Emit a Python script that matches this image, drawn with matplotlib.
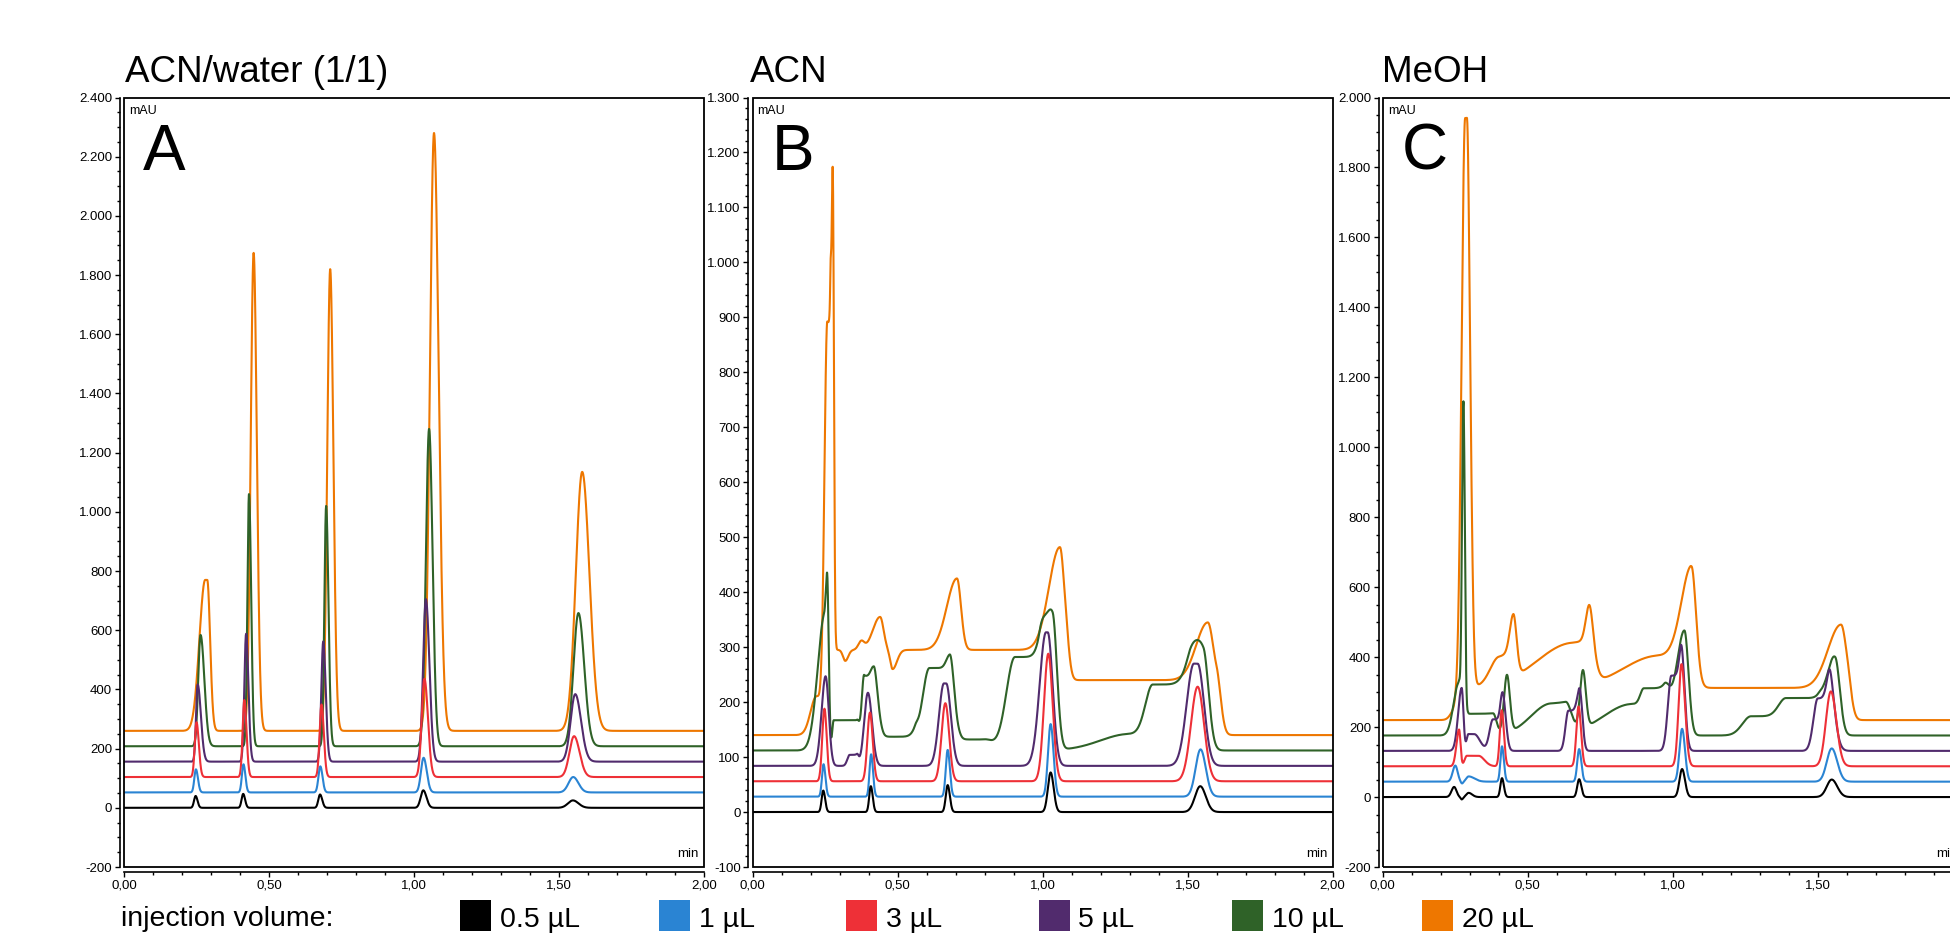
import numpy as np
import matplotlib
matplotlib.use("Agg")
import matplotlib.pyplot as plt
from matplotlib.patches import Rectangle
from matplotlib.ticker import MultipleLocator, FuncFormatter

plt.rcParams['font.family'] = ['Liberation Sans', 'DejaVu Sans']

# ---------------- data ----------------
SERIES = ["0.5 µL", "1 µL", "3 µL", "5 µL", "10 µL", "20 µL"]
COLORS = ["#000000", "#2A84D3", "#EE3037", "#512B6D", "#2F6228", "#EE7700"]
PANEL_TITLES = ["ACN/water (1/1)", "ACN", "MeOH"]
PANEL_LETTERS = ["A", "B", "C"]

# vertical offsets of each trace (mAU)
OFFSET_A = [0, 52, 104, 156, 208, 260]
OFFSET_B = [0, 28, 56, 84, 112, 140]
OFFSET_C = [0, 44, 88, 132, 176, 220]

# peak tables: (start min, end min, height mAU, sigma left, sigma right)
A_BLACK = [(0.247, 0.247, 40, 0.0055, 0.0065), (0.411, 0.411, 47, 0.0055, 0.0065),
           (0.676, 0.676, 45, 0.0060, 0.0075), (1.032, 1.032, 59, 0.0090, 0.0110),
           (1.548, 1.548, 25, 0.0170, 0.0190)]
A_BLUE = [(0.248, 0.248, 78, 0.0055, 0.0070), (0.412, 0.412, 95, 0.0055, 0.0065),
          (0.677, 0.677, 88, 0.0065, 0.0075), (1.033, 1.033, 117, 0.0090, 0.0110),
          (1.549, 1.549, 52, 0.0160, 0.0180)]
A_RED = [(0.250, 0.250, 185, 0.0060, 0.0080), (0.415, 0.415, 260, 0.0060, 0.0075),
         (0.681, 0.681, 245, 0.0065, 0.0080), (1.036, 1.036, 332, 0.0095, 0.0120),
         (1.552, 1.552, 138, 0.0160, 0.0190)]
A_PURPLE = [(0.254, 0.254, 261, 0.0055, 0.0110), (0.421, 0.421, 432, 0.0060, 0.0080),
            (0.687, 0.687, 406, 0.0065, 0.0085), (1.041, 1.041, 549, 0.0095, 0.0120),
            (1.556, 1.556, 228, 0.0160, 0.0200)]
A_GREEN = [(0.264, 0.264, 376, 0.0080, 0.0130), (0.431, 0.431, 852, 0.0055, 0.0075),
           (0.697, 0.697, 812, 0.0060, 0.0080), (1.052, 1.052, 1072, 0.0110, 0.0120),
           (1.567, 1.567, 450, 0.0170, 0.0200)]
A_ORANGE = [(0.280, 0.287, 510, 0.0200, 0.0100), (0.447, 0.447, 1615, 0.0100, 0.0110),
            (0.711, 0.711, 1560, 0.0100, 0.0110), (1.069, 1.069, 2020, 0.0140, 0.0160),
            (1.580, 1.580, 875, 0.0220, 0.0250)]

B_BLACK = [(0.244, 0.244, 39, 0.0055, 0.0065), (0.408, 0.408, 47, 0.0055, 0.0065),
           (0.673, 0.673, 49, 0.0065, 0.0075), (1.028, 1.028, 72, 0.0095, 0.0105),
           (1.544, 1.544, 47, 0.0180, 0.0190)]
B_BLUE = [(0.245, 0.245, 59, 0.0055, 0.0065), (0.409, 0.409, 77, 0.0055, 0.0065),
          (0.673, 0.673, 85, 0.0065, 0.0075), (1.028, 1.028, 132, 0.0090, 0.0100),
          (1.545, 1.545, 86, 0.0170, 0.0180)]
B_RED = [(0.248, 0.248, 132, 0.0075, 0.0080), (0.405, 0.405, 125, 0.0090, 0.0095),
         (0.665, 0.665, 142, 0.0130, 0.0130), (1.020, 1.020, 232, 0.0150, 0.0150),
         (1.535, 1.535, 172, 0.0230, 0.0220)]
B_PURPLE = [(0.252, 0.252, 163, 0.0140, 0.0110), (0.335, 0.360, 20, 0.0080, 0.0060),
            (0.398, 0.398, 133, 0.0130, 0.0140), (0.660, 0.668, 150, 0.0170, 0.0160),
            (1.012, 1.018, 243, 0.0220, 0.0170), (1.522, 1.535, 186, 0.0250, 0.0220)]
B_GREEN = [(0.250, 0.250, 250, 0.0250, 0.0070), (0.259, 0.259, 195, 0.0040, 0.0050),
           (0.280, 0.360, 55, 0.0050, 0.0100), (0.385, 0.418, 135, 0.0080, 0.0140),
           (0.415, 0.415, 12, 0.0080, 0.0080), (0.450, 0.560, 25, 0.0200, 0.0100),
           (0.610, 0.680, 150, 0.0250, 0.0160), (0.680, 0.680, 22, 0.0120, 0.0120),
           (0.720, 0.800, 20, 0.0200, 0.0300), (0.905, 0.990, 170, 0.0300, 0.0200),
           (1.035, 1.035, 237, 0.0250, 0.0150), (1.300, 1.500, 30, 0.1000, 0.0300),
           (1.380, 1.500, 90, 0.0250, 0.0300), (1.555, 1.555, 165, 0.0350, 0.0180)]
B_ORANGE = [(0.220, 0.220, 70, 0.0200, 0.0200), (0.258, 0.268, 740, 0.0100, 0.0040),
            (0.277, 0.277, 900, 0.0040, 0.0040), (0.290, 1.600, 100, 0.0100, 0.0150),
            (0.290, 1.080, 55, 0.0100, 0.0120), (0.320, 0.320, -20, 0.0080, 0.0100),
            (0.375, 0.375, 15, 0.0100, 0.0100), (0.440, 0.440, 60, 0.0250, 0.0120),
            (0.483, 0.483, -35, 0.0080, 0.0150), (0.705, 0.705, 130, 0.0350, 0.0140),
            (1.060, 1.060, 187, 0.0380, 0.0150), (1.570, 1.570, 105, 0.0400, 0.0180)]

C_BLACK = [(0.246, 0.246, 29, 0.0090, 0.0080), (0.272, 0.272, -7, 0.0040, 0.0050),
           (0.296, 0.296, 12, 0.0080, 0.0120), (0.411, 0.411, 54, 0.0055, 0.0065),
           (0.677, 0.677, 51, 0.0065, 0.0075), (1.032, 1.032, 80, 0.0090, 0.0100),
           (1.548, 1.548, 50, 0.0170, 0.0190)]
C_BLUE = [(0.250, 0.250, 46, 0.0090, 0.0080), (0.273, 0.273, -6, 0.0040, 0.0040),
          (0.296, 0.296, 15, 0.0080, 0.0200), (0.411, 0.411, 101, 0.0055, 0.0065),
          (0.677, 0.677, 93, 0.0065, 0.0075), (1.032, 1.032, 151, 0.0090, 0.0100),
          (1.548, 1.548, 95, 0.0170, 0.0190)]
C_RED = [(0.263, 0.263, 105, 0.0090, 0.0050), (0.290, 0.330, 30, 0.0080, 0.0200),
         (0.410, 0.410, 160, 0.0065, 0.0075), (0.675, 0.675, 171, 0.0075, 0.0085),
         (1.030, 1.030, 292, 0.0100, 0.0120), (1.545, 1.545, 214, 0.0170, 0.0190)]
C_PURPLE = [(0.272, 0.272, 180, 0.0120, 0.0060), (0.295, 0.315, 48, 0.0060, 0.0200),
            (0.380, 0.405, 90, 0.0120, 0.0100), (0.416, 0.416, 110, 0.0080, 0.0100),
            (0.640, 0.675, 115, 0.0100, 0.0100), (0.682, 0.682, 75, 0.0100, 0.0080),
            (0.995, 1.025, 215, 0.0120, 0.0120), (1.033, 1.033, 110, 0.0090, 0.0110),
            (1.500, 1.535, 150, 0.0150, 0.0150), (1.545, 1.545, 100, 0.0120, 0.0180)]
C_GREEN = [(0.262, 0.262, 150, 0.0180, 0.0060), (0.278, 0.278, 950, 0.0050, 0.0050),
           (0.295, 0.380, 62, 0.0060, 0.0120), (0.428, 0.428, 165, 0.0100, 0.0100),
           (0.580, 0.630, 90, 0.0700, 0.0200), (0.690, 0.690, 165, 0.0100, 0.0100),
           (0.860, 0.970, 90, 0.1000, 0.0200), (0.900, 0.970, 45, 0.0120, 0.0200),
           (1.040, 1.040, 300, 0.0280, 0.0140), (1.270, 1.500, 55, 0.0300, 0.0300),
           (1.390, 1.500, 52, 0.0250, 0.0300), (1.560, 1.560, 210, 0.0250, 0.0160)]
C_ORANGE = [(0.250, 0.250, 30, 0.0150, 0.0080), (0.284, 0.290, 1720, 0.0125, 0.0110),
            (0.310, 1.600, 92, 0.0060, 0.0150), (0.400, 0.450, 75, 0.0300, 0.0100),
            (0.450, 0.450, 105, 0.0120, 0.0120), (0.650, 0.710, 125, 0.1200, 0.0200),
            (0.712, 0.712, 100, 0.0120, 0.0120), (0.950, 1.060, 92, 0.1200, 0.0200),
            (1.065, 1.065, 258, 0.0350, 0.0150), (1.580, 1.580, 181, 0.0450, 0.0180)]

PANEL_TRACES = [
    [A_BLACK, A_BLUE, A_RED, A_PURPLE, A_GREEN, A_ORANGE],
    [B_BLACK, B_BLUE, B_RED, B_PURPLE, B_GREEN, B_ORANGE],
    [C_BLACK, C_BLUE, C_RED, C_PURPLE, C_GREEN, C_ORANGE],
]
PANEL_OFFSETS = [OFFSET_A, OFFSET_B, OFFSET_C]
Y_LIMITS = [(-200, 2400), (-100, 1300), (-200, 2000)]
Y_MAJOR = [200, 100, 200]
Y_MINOR = [50, 20, 50]
X_TICKS = [[0, 0.5, 1.0, 1.5, 2.0], [0, 0.5, 1.0, 1.5, 2.0], [0, 0.5, 1.0, 1.5]]

# ---------------- layout (pixels) ----------------
W, H = 1950, 944
FRAME_LEFT = [124, 752.5, 1382.8]
FRAME_W = 580
FRAME_TOP, FRAME_BOTTOM = 97.5, 867
TITLE_X = [125, 750, 1382]
LEGEND_X = [460, 659, 846, 1038.5, 1232, 1422]


def trace(t, comps, base):
    y = np.full_like(t, float(base))
    for t0, t1, h, sl, sr in comps:
        prof = np.ones_like(t)
        left = t < t0
        prof[left] = np.exp(-0.5 * ((t[left] - t0) / sl) ** 2)
        right = t > t1
        prof[right] = np.exp(-0.5 * ((t[right] - t1) / sr) ** 2)
        y += h * prof
    return y


def yfmt(v, pos):
    return f"{int(round(v)):,}".replace(",", ".")


def xfmt(v, pos):
    return f"{v:.2f}".replace(".", ",")


fig = plt.figure(figsize=(W / 100, H / 100), dpi=100)
t = np.linspace(0, 2, 4001)

for i in range(3):
    ax = fig.add_axes([FRAME_LEFT[i] / W, 1 - FRAME_BOTTOM / H,
                       FRAME_W / W, (FRAME_BOTTOM - FRAME_TOP) / H])
    ax.set_xlim(0, 2)
    ax.set_ylim(*Y_LIMITS[i])
    for k in reversed(range(6)):
        y = trace(t, PANEL_TRACES[i][k], PANEL_OFFSETS[i][k])
        ax.plot(t, y, color=COLORS[k], lw=1.5, solid_joinstyle='round')
    ax.spines['top'].set_visible(False)
    ax.spines['right'].set_visible(False)
    ax.spines['left'].set_position(('outward', 3))
    ax.spines['bottom'].set_position(('outward', 3.6))
    ax.spines['left'].set_linewidth(1.2)
    ax.spines['bottom'].set_linewidth(1.2)
    ax.add_patch(Rectangle((0, 0), 1, 1, transform=ax.transAxes, fill=False,
                           lw=1.3, ec='black', clip_on=False, zorder=5))
    ax.set_xticks(X_TICKS[i])
    ax.xaxis.set_minor_locator(MultipleLocator(0.1))
    ax.yaxis.set_major_locator(MultipleLocator(Y_MAJOR[i]))
    ax.yaxis.set_minor_locator(MultipleLocator(Y_MINOR[i]))
    ax.xaxis.set_major_formatter(FuncFormatter(xfmt))
    ax.yaxis.set_major_formatter(FuncFormatter(yfmt))
    ax.tick_params(which='major', length=3.5, width=1, labelsize=9.5, pad=2)
    ax.tick_params(which='minor', length=2.2, width=1)
    ax.annotate("mAU", xy=(0, 1), xycoords='axes fraction', xytext=(5, -14),
                textcoords='offset pixels', ha='left', va='center', fontsize=9)
    ax.annotate("min", xy=(1, 0), xycoords='axes fraction', xytext=(-5, 13),
                textcoords='offset pixels', ha='right', va='center', fontsize=9.5)
    fig.text((FRAME_LEFT[i] + 19) / W, 1 - (FRAME_TOP + 72) / H, PANEL_LETTERS[i],
             fontsize=46, ha='left', va='baseline')
    fig.text(TITLE_X[i] / W, 1 - 81.7 / H, PANEL_TITLES[i], fontsize=26.5,
             ha='left', va='baseline')

# legend
fig.text(121 / W, 1 - 926 / H, "injection volume:", fontsize=20.5, ha='left', va='baseline')
for k in range(6):
    fig.add_artist(Rectangle((LEGEND_X[k] / W, 1 - 931 / H), 31 / W, 31 / H,
                             transform=fig.transFigure, color=COLORS[k], lw=0))
    fig.text((LEGEND_X[k] + 40) / W, 1 - 927 / H, SERIES[k], fontsize=20.5,
             ha='left', va='baseline')

fig.savefig("out.png", dpi=100)
